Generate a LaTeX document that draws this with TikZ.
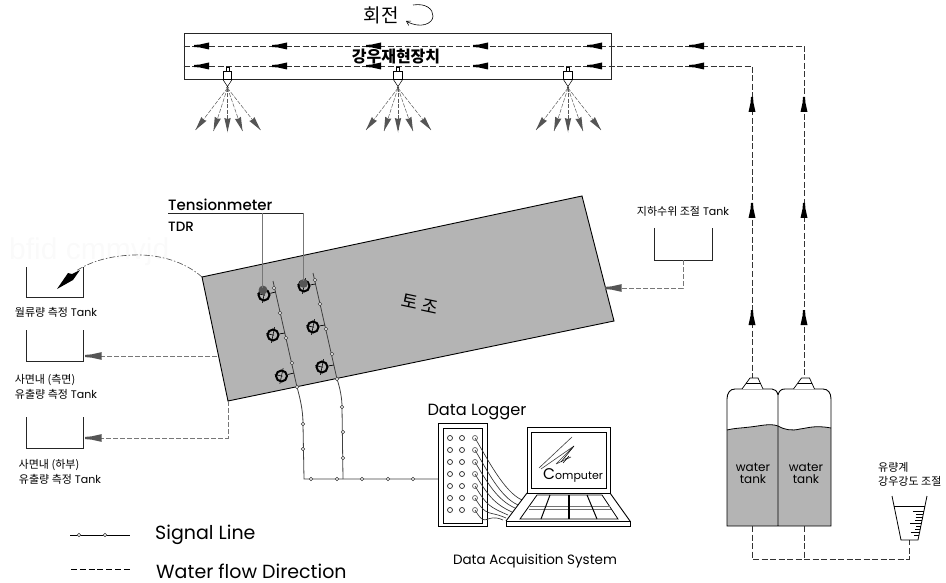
\documentclass[tikz,border=0pt]{standalone}
\usepackage{fontspec}
\setmainfont{Poppins}
\newfontfamily\kr{Noto Sans CJK KR}
\newfontfamily\pmed{Poppins Medium}
\usetikzlibrary{arrows.meta,calc}
\definecolor{soil}{HTML}{B4B4B4}
\definecolor{headgray}{HTML}{555555}
\definecolor{lineg}{HTML}{777777}
\newcommand{\flowhead}[5]{\fill[#4,shift={(#1,#2)},rotate=#3,scale=#5] (0,-1) -- (0,1) -- (6,1.5) -- (15,3.5) -- (15,-3.5) -- (6,-1.5) -- cycle;}
\tikzset{
 flow/.style={line width=.8pt,dash pattern=on 6pt off 2.5pt,draw=black!80},
 flowg/.style={line width=.8pt,dash pattern=on 5pt off 2pt,draw=lineg},
 wall/.style={line width=.9pt,draw=black!85},
 sigline/.style={line width=.8pt,draw=black!75},
 sigdot/.style={circle,draw=black!80,fill=white,inner sep=0pt,minimum size=3.6pt,line width=.6pt},
 logdot/.style={circle,draw=black!85,fill=white,inner sep=0pt,minimum size=5pt,line width=.7pt},
 sensor/.style={circle,draw=black,inner sep=0pt,minimum size=11pt,line width=2pt},
 klbl/.style={inner sep=0pt,font=\fontsize{11}{13}\selectfont},
 big/.style={inner sep=0pt,font=\fontsize{19}{21}\selectfont},
}
\begin{document}
\begin{tikzpicture}[x=1pt,y=-1pt]
\useasboundingbox (0,0) rectangle (946,583);
% ghost text
\node[inner sep=0pt,text=black!2,font=\fontsize{30}{32}\selectfont\fontspec{Liberation Sans},anchor=west] (ghost) at (9,252) {bfid cmmvjd};
% rotating rig
\node[draw=black!85,line width=.9pt,fill=white,inner sep=0pt,minimum width=427pt,minimum height=46pt,anchor=north west] (rig) at (183.5,33) {};
\coordinate (upL) at (183.5,46); \coordinate (upC) at (804,46);
\coordinate (loL) at (183.5,66); \coordinate (loC) at (752,66);
\coordinate (nz1) at (804,378); \coordinate (nz2) at (752,378);
\draw[flow] (upL) -- (upC) -- (nz1);
\draw[flow] (loL) -- (loC) -- (nz2);
\foreach \x in {194,272,366,473,587,689}{\flowhead{\x}{46}{0}{black}{1}\flowhead{\x}{66}{0}{black}{1}}
\foreach \x in {752,804}\foreach \y in {97,203,310}{\flowhead{\x}{\y}{-90}{black}{1}}
\node[inner sep=0pt,font=\fontsize{19}{21}\selectfont\kr] (rot) at (381,15) {회전};
\coordinate (rota) at (413,5); \coordinate (rotb) at (406,21);
\draw[line width=.6pt,-{Straight Barb[length=4pt,width=5pt]}] (rota) .. controls (426,3) and (433,9) .. (433,16) .. controls (433,24) and (420,29) .. (rotb);
\node[inner sep=0pt,fill=none,font=\fontsize{16}{18}\selectfont\kr\bfseries] (rigtxt) at (396,57) {강우재현장치};
% nozzles and sprays
\foreach \n/\cx in {a/227.5,b/398,c/568}{
 \begin{scope}[shift={(\cx,0)}]
  \draw[line width=.5pt,fill=white] (-1.5,67) rectangle (1.5,72);
  \node[draw=black,fill=white,line width=.6pt,inner sep=0pt,minimum width=8.5pt,minimum height=7.5pt,anchor=north] (noz\n) at (0,71.5) {};
  \draw[line width=.5pt] (noz\n.south west) -- (1,88) (noz\n.south east) -- (-1,88);
  \coordinate (ap\n) at (0,88);
  \foreach \k/\dx/\dy/\st in {1/-32/42/solid,2/-14/43/dashed,3/0/44/dashed,4/15/43/dashed,5/33/42/solid}{
   \coordinate (sp\n\k) at (\dx,88+\dy);
   \draw[line width=.5pt,draw=black!65,\st,dash pattern=on 4pt off 1.5pt] (ap\n) -- (sp\n\k);
   \pgfmathsetmacro\ang{atan2(\dy,-\dx)}
   \fill[headgray,shift={(sp\n\k)},rotate=\ang] (0,0) -- (14,3.2) -- (13,0) -- (14,-3.2) -- cycle;
  }
 \end{scope}
}
% soil block
\coordinate (bTL) at (202,277); \coordinate (bTR) at (582,196); \coordinate (bBR) at (614,321); \coordinate (bBL) at (228,401);
\fill[soil] (bTL) -- (bTR) -- (bBR) -- (bBL) -- cycle;
\draw[wall,draw=black] (bTL) -- (bTR) -- (bBR) -- (bBL) -- cycle;
\node[inner sep=0pt,rotate=-12,font=\fontsize{18}{20}\selectfont\kr] (soiltxt) at (420,304) {토 조};
% signal dots
\foreach \n/\x/\y in {l1/274/288,l2/280/313,l3/286/338,l4/292/363,l5/297/387,l6/303/424,l7/303/449,
 r1/315/280,r2/320/304,r3/326/329,r4/332/354,r5/337/379,r6/342/407,r7/343/432,r8/343/458,
 h1/311/479,h2/337/479,h3/362/479,h4/388/479,h5/413/479}{\coordinate (\n) at (\x,\y);}
\coordinate (lS) at (273,281); \coordinate (rS) at (313,273);
\coordinate (cL) at (304,479); \coordinate (jn) at (343,479); \coordinate (dlIn) at (438,479);
\draw[sigline] (lS) -- (l5) .. controls (300,398) and (303,410) .. (l6) -- (cL) -- (dlIn);
\draw[sigline] (rS) -- (r5) .. controls (340,388) and (342,398) .. (r6) -- (jn);
% sensors
\foreach \n/\x/\y/\tx/\ty in {s1/264/295/275.5/292,s2/273/335/285/333,s3/281.5/376/294/373,s4/304/286/315.5/284,s5/313/327/325/325,s6/322/367/334/365}{
 \node[sensor] (\n) at (\x,\y) {};
 \coordinate (t\n) at (\tx,\ty);
 \draw[line width=.6pt,rotate around={-12:(\n)}] (\x,\y-8) -- (\x,\y+8) (\x-7,\y) -- (\x+1,\y);
 \draw[line width=.7pt] (\n) -- (t\n);
}
\foreach \n/\x/\y in {l1/274/288,l2/280/313,l3/286/338,l4/292/363,l5/297/387,l6/303/424,l7/303/449,
 r1/315/280,r2/320/304,r3/326/329,r4/332/354,r5/337/379,r6/342/407,r7/343/432,r8/343/458,
 h1/311/479,h2/337/479,h3/362/479,h4/388/479,h5/413/479}{\node[sigdot] (d\n) at (\n) {};}
% tensionmeter
\coordinate (tmL) at (168,213); \coordinate (tmA) at (262,213); \coordinate (tmB) at (303,213);
\fill[headgray] (263,290) circle (4.4pt) (303.5,283.5) circle (4.4pt);
\coordinate (tmAe) at (262,288); \coordinate (tmBe) at (303,281);
\draw[line width=.9pt,draw=black!85] (tmL) -- (tmB);
\draw[line width=.9pt,draw=lineg] (tmA) -- (tmAe) (tmB) -- (tmBe);
\node[inner sep=0pt,anchor=west,font=\fontsize{15}{17}\selectfont\pmed] (tmtxt) at (168,205) {Tensionmeter};
\node[inner sep=0pt,anchor=west,font=\fontsize{13.5}{15}\selectfont\pmed] (tdrtxt) at (168,227) {TDR};
% overflow curve
\coordinate (ovE) at (76,271);
\draw[line width=.6pt,draw=black!70,dash pattern=on 6pt off 2pt on 1.5pt off 2pt] (bTL) .. controls (185,262) and (160,254) .. (133,255) .. controls (108,256) and (90,262) .. (ovE);
\fill[black] (57,289) -- (68,273) -- (72,274) -- (80,270) -- (73,280) -- cycle;
% tanks left
\coordinate (t2in) at (85,356); \coordinate (t3in) at (85,438);
\coordinate (bL) at (217,356); \coordinate (bC) at (228,438);
\draw[wall] (26,267) -- (26,297) -- (83,297) -- (83,267);
\draw[wall] (26,330) -- (26,361) -- (83,361) -- (83,330);
\draw[wall] (26,417) -- (26,448) -- (83,448) -- (83,417);
\draw[flowg] (bL) -- (t2in);
\draw[flowg] (bBL) -- (bC) -- (t3in);
\flowhead{85}{356}{0}{headgray}{1.1}
\flowhead{85}{438}{0}{headgray}{1.1}
\node[klbl] (k1) at (56,312) {{\kr 월류량 측정} Tank};
\node[klbl] (k2) at (45,380) {{\kr 사면내 (측면)}};
\node[klbl] (k3) at (56,394) {{\kr 유출량 측정} Tank};
\node[klbl] (k4) at (49,465) {{\kr 사면내 (하부)}};
\node[klbl] (k5) at (60,479) {{\kr 유출량 측정} Tank};
% groundwater tank
\node[klbl] (k6) at (683,211) {{\kr 지하수위 조절} Tank};
\coordinate (gwB) at (683,260); \coordinate (gwC) at (683,288); \coordinate (gwE) at (605,288);
\draw[wall] (654,228) -- (654,260) -- (712,260) -- (712,228);
\draw[flowg] (gwB) -- (gwC) -- (gwE);
\flowhead{605}{288}{0}{headgray}{1.1}
% water tanks
\fill[soil] (727,526) -- (727,430) .. controls (735,428) and (743,428) .. (750,427) .. controls (760,426) and (770,423) .. (778,426) .. controls (785,430) and (792,431) .. (800,429) .. controls (808,428) and (815,425) .. (831,428) -- (831,526) -- cycle;
\draw[line width=.8pt] (727,430) .. controls (735,428) and (743,428) .. (750,427) .. controls (760,426) and (770,423) .. (778,426) .. controls (785,430) and (792,431) .. (800,429) .. controls (808,428) and (815,425) .. (831,428);
\draw[wall,draw=black] (778,395) .. controls (777,391) and (775,389) .. (772,389) -- (735,389) .. controls (730,389) and (727,393) .. (727,399) -- (727,526) -- (831,526) -- (831,399) .. controls (831,393) and (828,389) .. (823,389) -- (785,389) .. controls (781,389) and (779,391) .. (778,395) -- (778,526);
\foreach \cx in {752.5,804}{
 \begin{scope}[shift={(\cx,0)}]
 \draw[line width=.7pt,fill=white] (-10.5,389) -- (-2.5,378) -- (5.5,378) -- (10.5,389);
 \draw[line width=.6pt] (-6.5,383.5) -- (7.5,383.5);
 \end{scope}
}
\node[inner sep=0pt,align=center,font=\fontsize{12}{11.5}\selectfont] (w1) at (753,473.5) {water\\tank};
\node[inner sep=0pt,align=center,font=\fontsize{12}{11.5}\selectfont] (w2) at (806,473.5) {water\\tank};
% beaker
\coordinate (bkB) at (909,540); \coordinate (bkC) at (909,559);
\coordinate (wA) at (752,526); \coordinate (wAb) at (752,559);
\coordinate (wB) at (804,526); \coordinate (wBb) at (804,559);
\draw[flow] (wA) -- (wAb) -- (bkC) -- (bkB);
\draw[flow] (wB) -- (wBb);
\draw[line width=.8pt] (892,496) -- (901,540) -- (918,540) -- (927,496);
\draw[line width=.7pt] (894,506) -- (925,506);
\foreach \y/\l in {511/11,514/7,517/7,520/7,523/11,526/5,529/5,532/9,535/5}{
 \pgfmathsetmacro\xr{927-(\y-496)*9/44}
 \draw[line width=.5pt] (\xr-\l,\y) -- (\xr,\y);
}
\node[inner sep=0pt,anchor=west,font=\fontsize{11}{13}\selectfont\kr] (k7) at (878,467) {유량계};
\node[inner sep=0pt,anchor=west,font=\fontsize{11}{13}\selectfont\kr] (k8) at (878,481) {강우강도 조절};
% data logger
\node[draw=black,line width=.9pt,inner sep=0pt,minimum width=49pt,minimum height=103pt,anchor=north west] (logO) at (438,423) {};
\node[draw=black,line width=.9pt,inner sep=0pt,minimum width=39pt,minimum height=95pt,anchor=north west] (logI) at (443,428) {};
\node[inner sep=0pt,font=\fontsize{16.2}{18}\selectfont] (dltxt) at (477,412) {Data Logger};
\foreach \r/\y in {1/438,2/450,3/462,4/474,5/486,6/498,7/510}{
 \node[logdot] (c\r a) at (450,\y) {};
 \node[logdot] (c\r b) at (462,\y) {};
 \node[logdot,draw=black!60] (c\r c) at (475,\y) {};
}
\foreach \r/\ex/\ey in {1/522/500,2/518/505,3/515/508,4/512/512,5/508/515,6/506/518,7/503/520}{
 \coordinate (e\r) at (\ex,\ey);
 \draw[line width=.65pt,draw=black!80] (c\r c.center) .. controls ($(c\r c.center)+(12,20)$) and ($(e\r)+(-18,-8)$) .. (e\r);
}
% computer
\node[draw=black,line width=.9pt,fill=white,inner sep=0pt,minimum width=83pt,minimum height=66pt,anchor=north west] (scrO) at (527,427) {};
\node[draw=black,line width=.9pt,inner sep=0pt,minimum width=75pt,minimum height=56pt,anchor=north west] (scrI) at (531,432) {};
\draw[line width=.6pt,draw=black!75] (539,468) -- (572,437) (541,469) -- (574,446) -- (556,464) (556,464) -- (571,457) -- (565,459);
\draw[line width=.6pt] (561,462) -- (574,446) (563,463) -- (569,456);
\node[inner sep=0pt,anchor=west] (comp) at (543,475) {\fontsize{15.5}{16}\selectfont C\fontsize{11}{12}\selectfont omputer};
\draw[wall,draw=black,fill=white] (506,521) rectangle (630,526);
\draw[wall,draw=black] (527,493) -- (506,521) (610,493) -- (630,521);
\draw[line width=.8pt] (537,495) -- (602,495) -- (618,519) -- (520,519) -- cycle;
\draw[line width=.9pt,draw=black!55] (529.5,506.5) -- (610,506.5) (529,509) -- (611,509);
\draw[line width=1pt] (550,495) -- (541,519) (587,495) -- (597,519);
\draw[line width=1.4pt] (569,495) -- (569,519);
\node[inner sep=0pt,font=\fontsize{13.5}{15}\selectfont] (daqtxt) at (535,561) {Data Acquisition System};
% legend
\coordinate (lgA) at (70,535); \coordinate (lgB) at (130,535);
\coordinate (lgC) at (71,569); \coordinate (lgD) at (131,569);
\draw[line width=.7pt] (lgA) -- (lgB);
\node[sigdot] (lg1) at (79,535) {};
\node[sigdot] (lg2) at (105,535) {};
\draw[line width=.7pt,dash pattern=on 6pt off 2.8pt] (lgC) -- (lgD);
\node[big,anchor=west] (lgt1) at (155,535) {Signal Line};
\node[big,anchor=west] (lgt2) at (156,571) {Water flow Direction};
\end{tikzpicture}
\end{document}
